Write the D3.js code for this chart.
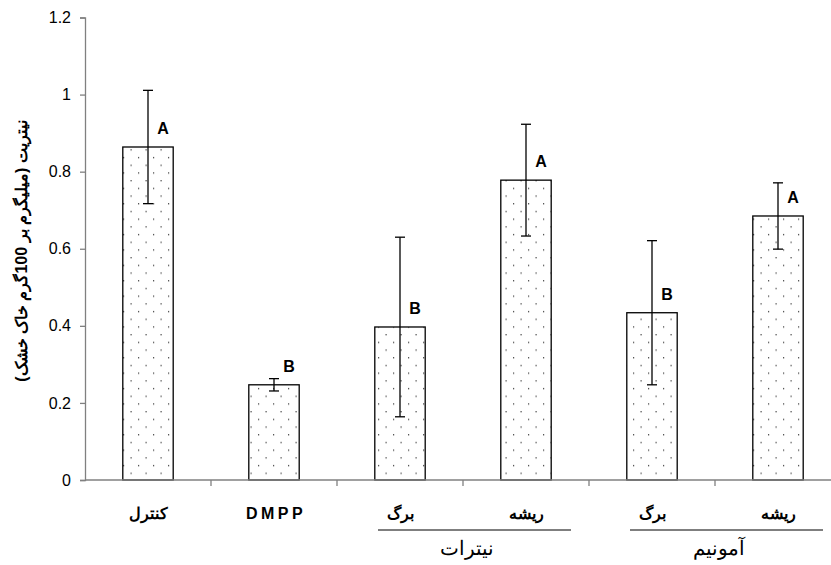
<!DOCTYPE html>
<html>
<head>
<meta charset="utf-8">
<script src="https://cdn.jsdelivr.net/npm/d3@7"></script>
<style>
  html, body { margin: 0; padding: 0; background: #fff; }
  svg { display: block; }
  text { font-family: Arial, "Liberation Sans", sans-serif; }
</style>
</head>
<body>
<svg id="chart" width="831" height="565"></svg>
<script>
const categories = ["کنترل", "DMPP", "برگ", "ریشه", "برگ", "ریشه"];
const values = [0.864, 0.247, 0.397, 0.778, 0.434, 0.685];
const errors = [0.147, 0.016, 0.233, 0.145, 0.187, 0.086];
const letters = ["A", "B", "B", "A", "B", "A"];
const groups = [
  { label: "نیترات", members: [2, 3] },
  { label: "آمونیم", members: [4, 5] }
];
const yTicks = [0, 0.2, 0.4, 0.6, 0.8, 1, 1.2];
const yLabel = "نیتریت (میلیگرم بر 100گرم خاک خشک)";

const svg = d3.select("#chart");
const plotLeft = 85, plotTop = 17.5, plotBottom = 480;
const bandW = 126;

const x = d3.scaleBand()
  .domain(d3.range(categories.length))
  .range([plotLeft, plotLeft + bandW * categories.length])
  .paddingInner(0.6).paddingOuter(0.3);
const xb = d3.scaleBand().domain(d3.range(categories.length))
  .range([plotLeft, plotLeft + bandW * categories.length]);
const y = d3.scaleLinear().domain([0, 1.2]).range([plotBottom, plotTop]);

// pattern
const defs = svg.append("defs");
const pat = defs.append("pattern").attr("id", "dots")
  .attr("patternUnits", "userSpaceOnUse")
  .attr("width", 15).attr("height", 15.4)
  .attr("x", 0).attr("y", 0);
pat.append("rect").attr("width", 15).attr("height", 15.4).attr("fill", "#fff");
pat.append("rect").attr("x", 3).attr("y", 3).attr("width", 1.2).attr("height", 1.2).attr("fill", "#333");
pat.append("rect").attr("x", 10.5).attr("y", 10.7).attr("width", 1.2).attr("height", 1.2).attr("fill", "#333");

// bars
svg.append("g").selectAll("rect").data(values).join("rect")
  .attr("x", (d, i) => x(i))
  .attr("y", d => y(d))
  .attr("width", x.bandwidth())
  .attr("height", d => y(0) - y(d))
  .attr("fill", "url(#dots)")
  .attr("stroke", "#000").attr("stroke-width", 1.3);

// y axis
const yAxis = d3.axisLeft(y).tickValues(yTicks).tickSize(5).tickPadding(9)
  .tickFormat(d => d3.format("")(d));
const gy = svg.append("g").attr("transform", `translate(${plotLeft},0)`).call(yAxis);
gy.select(".domain").attr("stroke", "#808080").attr("stroke-width", 1.3);
gy.selectAll(".tick line").attr("stroke", "#808080").attr("stroke-width", 1.3);
gy.selectAll(".tick text").attr("font-size", 16).attr("fill", "#000")
  .attr("font-family", "Arial, 'Liberation Sans', sans-serif");

// x axis line and ticks at band boundaries
svg.append("line").attr("x1", plotLeft).attr("x2", 831).attr("y1", plotBottom).attr("y2", plotBottom)
  .attr("stroke", "#808080").attr("stroke-width", 1.3);
svg.append("g").selectAll("line").data(d3.range(1, categories.length)).join("line")
  .attr("x1", i => xb(i)).attr("x2", i => xb(i))
  .attr("y1", plotBottom).attr("y2", plotBottom + 6)
  .attr("stroke", "#808080").attr("stroke-width", 1.3);

// error bars
const eg = svg.append("g").attr("stroke", "#000").attr("stroke-width", 1.3);
values.forEach((v, i) => {
  const cx = x(i) + x.bandwidth() / 2;
  eg.append("line").attr("x1", cx).attr("x2", cx).attr("y1", y(v + errors[i])).attr("y2", y(v - errors[i]));
  eg.append("line").attr("x1", cx - 5).attr("x2", cx + 5).attr("y1", y(v + errors[i])).attr("y2", y(v + errors[i]));
  eg.append("line").attr("x1", cx - 5).attr("x2", cx + 5).attr("y1", y(v - errors[i])).attr("y2", y(v - errors[i]));
});

// letters
svg.append("g").selectAll("text").data(letters).join("text")
  .attr("x", (d, i) => x(i) + x.bandwidth() / 2 + 15)
  .attr("y", (d, i) => y(values[i]) - 13)
  .attr("text-anchor", "middle")
  .attr("font-size", 16).attr("font-weight", "bold")
  .text(d => d);

// category labels
svg.append("g").selectAll("text").data(categories).join("text")
  .attr("x", (d, i) => xb(i) + bandW / 2 + (d === "DMPP" ? 2 : 0))
  .attr("y", 519)
  .attr("text-anchor", "middle")
  .attr("font-size", 16).attr("font-weight", "bold")
  .attr("letter-spacing", (d) => d === "DMPP" ? 3.5 : 0)
  .text(d => d);

// group labels
groups.forEach(g => {
  const c0 = xb(g.members[0]) + bandW / 2, c1 = xb(g.members[1]) + bandW / 2;
  svg.append("line").attr("x1", c0 - 22).attr("x2", c1 + 45)
    .attr("y1", 530).attr("y2", 530).attr("stroke", "#000").attr("stroke-width", 1.2);
  svg.append("text").attr("x", (c0 + c1) / 2 + 4).attr("y", 555)
    .attr("text-anchor", "middle").attr("font-size", 20)
    .text(g.label);
});

// y label
svg.append("text")
  .attr("transform", `translate(27,251) rotate(-90)`)
  .attr("text-anchor", "middle")
  .attr("font-size", 16).attr("font-weight", "bold")
  .text(yLabel);
</script>
</body>
</html>
